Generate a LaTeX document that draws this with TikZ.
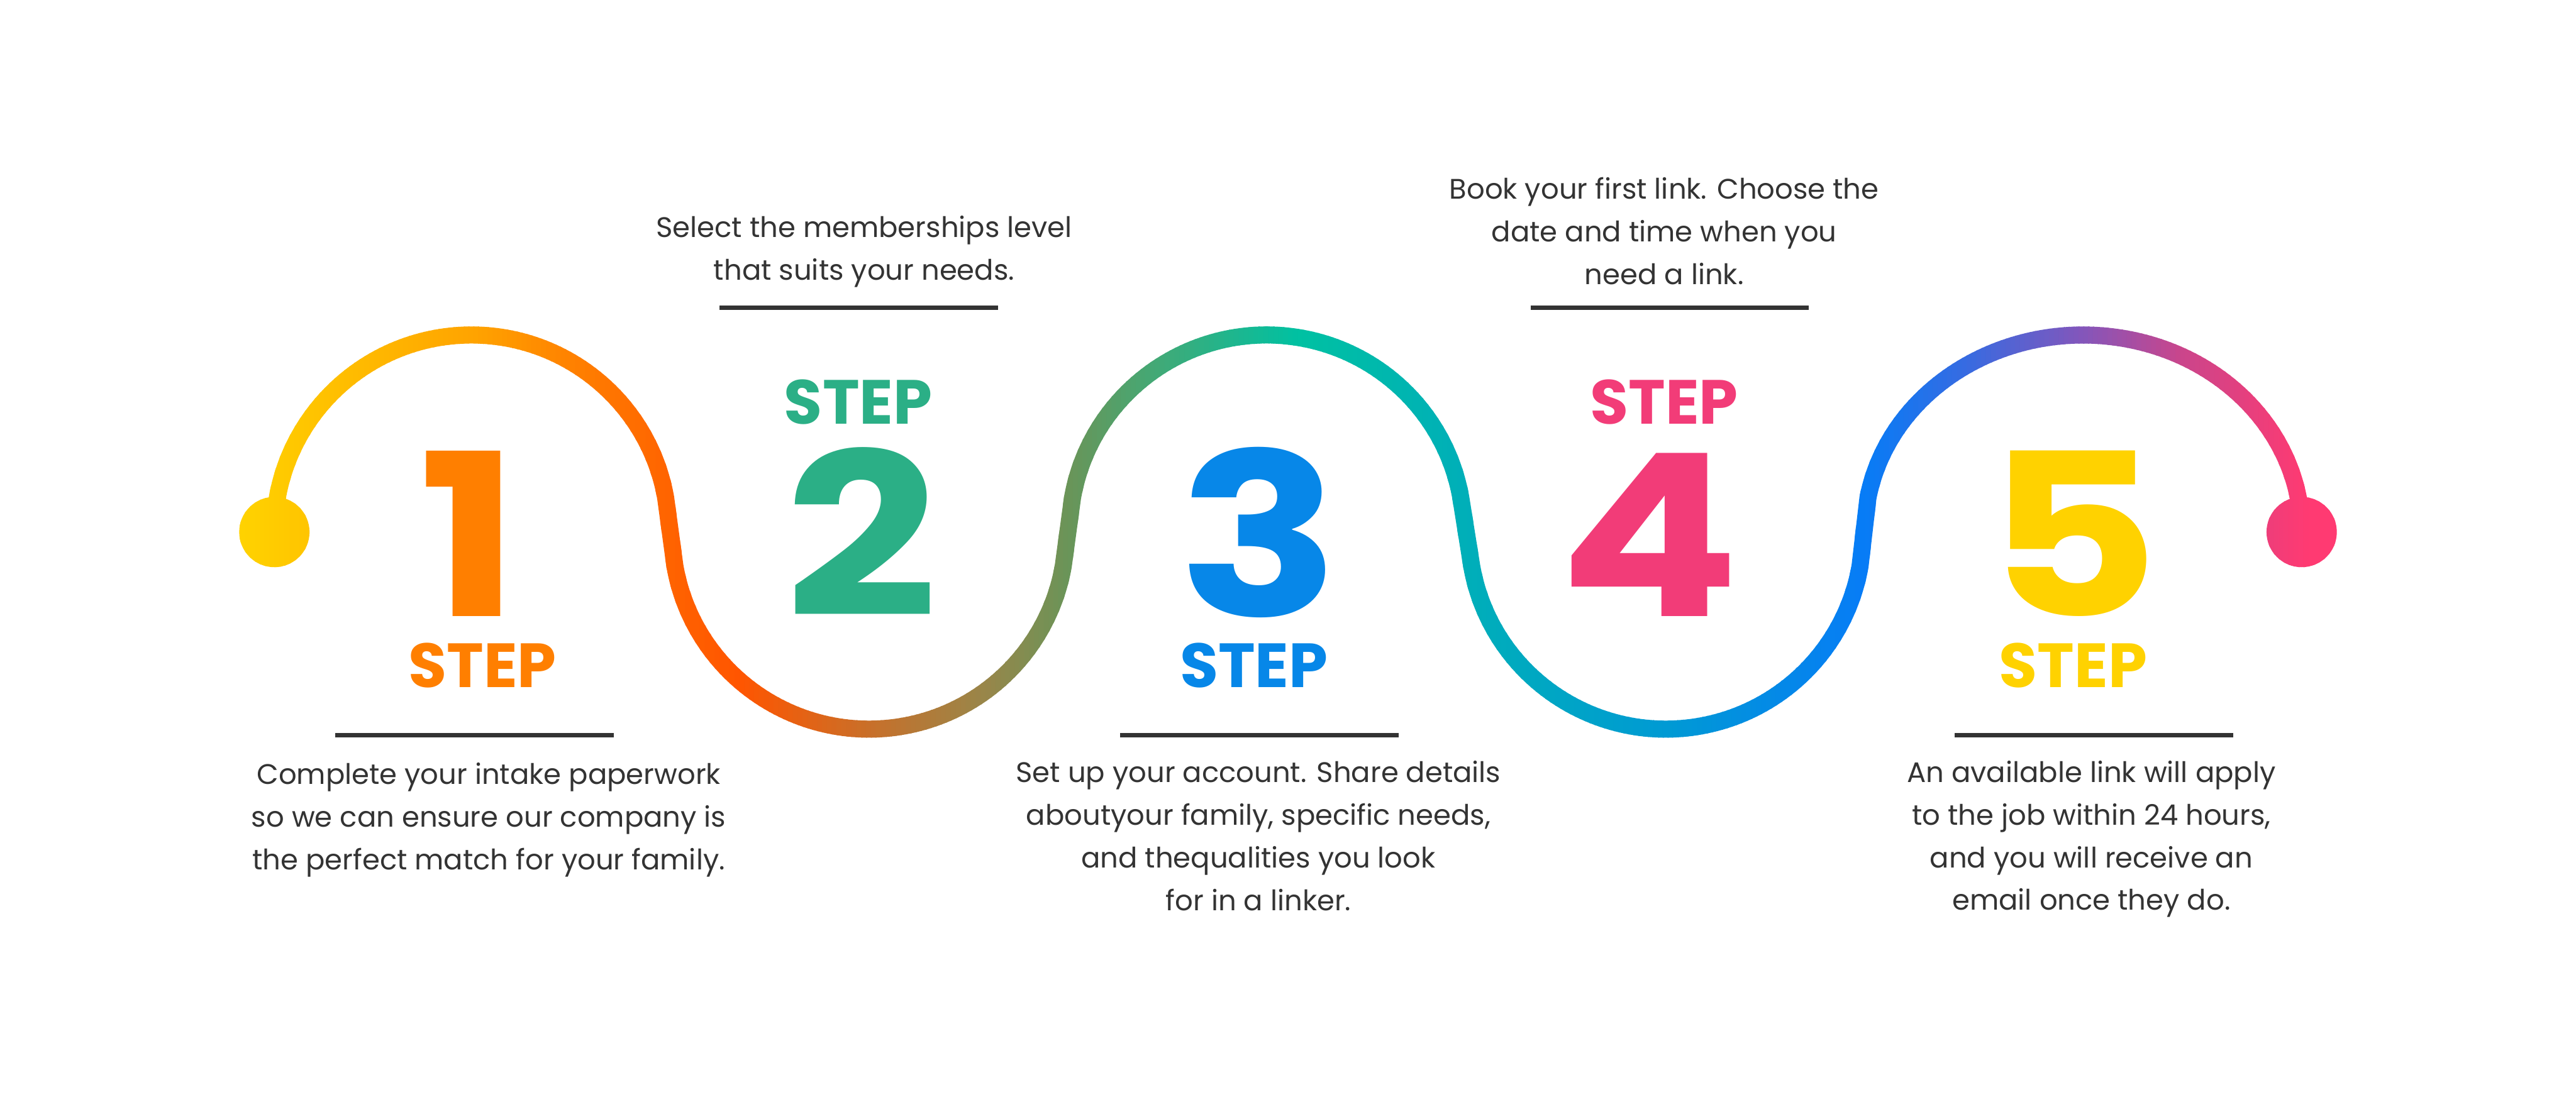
\documentclass[tikz,border=0pt]{standalone}
\usepackage{fontspec}
\setmainfont{Poppins}
\newfontfamily\digitfont{Poppins}[FakeStretch=1.18]

\definecolor{ink}{HTML}{333333}
\definecolor{stepA}{HTML}{FF7F00}
\definecolor{stepB}{HTML}{2BAF86}
\definecolor{stepC}{HTML}{0787E8}
\definecolor{stepD}{HTML}{F23C78}
\definecolor{stepE}{HTML}{FFD200}
% colour stops of the wave, left to right
\definecolor{w0}{HTML}{FFD400}
\definecolor{w1}{HTML}{FFA400}
\definecolor{w2}{HTML}{FF8000}
\definecolor{w3}{HTML}{FF6400}
\definecolor{w4}{HTML}{FF5500}
\definecolor{w5}{HTML}{C8702A}
\definecolor{w6}{HTML}{98864A}
\definecolor{w7}{HTML}{6A9458}
\definecolor{w8}{HTML}{45A874}
\definecolor{w9}{HTML}{00C1A2}
\definecolor{w10}{HTML}{00AFB8}
\definecolor{w11}{HTML}{009AD4}
\definecolor{w12}{HTML}{077CF6}
\definecolor{w13}{HTML}{3A6AE0}
\definecolor{w14}{HTML}{8456BA}
\definecolor{w15}{HTML}{CC458A}
\definecolor{w16}{HTML}{FF3A72}

\begin{document}
\begin{tikzpicture}[x=1pt,y=1pt,
  bignum/.style={anchor=base,inner sep=0pt,text height=100pt,text depth=0pt,
    font=\digitfont\bfseries\fontsize{138}{138}\selectfont},
  steptag/.style={anchor=base,inner sep=0pt,text height=27pt,text depth=0pt,
    font=\bfseries\fontsize{38}{38}\selectfont},
  blurb/.style={anchor=base,inner sep=0pt,text=ink,font=\fontsize{17.2}{26}\selectfont},
  rulepen/.style={draw=ink,line width=2.5pt},
  wavepen/.style={line width=10.4pt}]
  \fill[white] (0,0) rectangle (1568,671);
  \useasboundingbox (0,0) rectangle (1568,671);

  % centres of the humps and the two end dots
  \coordinate (dotL) at (167,347);
  \coordinate (h2) at (529,347);
  \coordinate (h3) at (771,347);
  \coordinate (h4) at (1014,347);
  \coordinate (h5) at (1268,347);
  \coordinate (dotR) at (1401,347);

  \def\wavepath{(dotL) arc[start angle=180,end angle=10,radius=120]
    -- ([shift={(190:120)}]h2) arc[start angle=190,end angle=350,radius=120]
    -- ([shift={(170:120)}]h3) arc[start angle=170,end angle=10,radius=120]
    -- ([shift={(190:120)}]h4) arc[start angle=190,end angle=350,radius=120]
    -- ([shift={(-131,20.8)}]h5) arc[start angle=170,end angle=0,x radius=133,y radius=120]}

  % wave with a horizontal colour run, drawn in thin strips
  \foreach \xa/\xb/\ca/\cb in {140/288/w0/w1,288/350/w1/w2,350/405/w2/w3,405/450/w3/w4,
      450/530/w4/w5,530/600/w5/w6,600/650/w6/w7,650/700/w7/w8,700/790/w8/w9,
      790/890/w9/w10,890/1015/w10/w11,1015/1135/w11/w12,1135/1200/w12/w13,
      1200/1268/w13/w14,1268/1330/w14/w15,1330/1405/w15/w16,1405/1430/w16/w16}{
    \pgfmathtruncatemacro\nstrip{max(1,round((\xb-\xa)/3))}
    \foreach \i in {1,...,\nstrip}{
      \pgfmathsetmacro\xl{\xa+(\i-1)*(\xb-\xa)/\nstrip}
      \pgfmathsetmacro\xr{\xa+\i*(\xb-\xa)/\nstrip+0.8}
      \pgfmathtruncatemacro\pct{round(100*(\i-0.5)/\nstrip)}
      \begin{scope}
        \clip (\xl,100) rectangle (\xr,520);
        \draw[wavepen,draw=\cb!\pct!\ca] \wavepath;
        \fill[\cb!\pct!\ca] (dotL) circle[radius=21.4] (dotR) circle[radius=21.4];
      \end{scope}
    }
  }

  % step 1
  \node[bignum,text=stepA] (num1) at (285.6,295.5) {1};
  \node[steptag,text=stepA] (tag1) at (293.7,252.5) {STEP};
  \draw[rulepen] (204,223.2) -- (373.5,223.2);
  \node[blurb] (note1) at (297.5,193.5) {\parbox[t]{360pt}{\centering
    Complete your intake paperwork\\ so we can ensure our company is\\ the perfect match for your family.}};

  % step 2
  \node[bignum,text=stepB] (num2) at (524.3,295.5) {2};
  \node[steptag,text=stepB] (tag2) at (522.4,412.7) {STEP};
  \draw[rulepen] (438,483.7) -- (607.7,483.7);
  \node[blurb] (note2) at (526,526.5) {\parbox[t]{360pt}{\centering
    Select the memberships level\\ that suits your needs.}};

  % step 3
  \node[bignum,text=stepC] (num3) at (766.6,295.5) {3};
  \node[steptag,text=stepC] (tag3) at (763.2,252.5) {STEP};
  \draw[rulepen] (681.8,223.2) -- (851.4,223.2);
  \node[blurb] (note3) at (766,194.5) {\parbox[t]{360pt}{\centering
    Set up your account. Share details\\ aboutyour family, specific needs,\\ and thequalities you look\\ for in a linker.}};

  % step 4
  \node[bignum,text=stepD] (num4) at (1003.9,295.5) {4};
  \node[steptag,text=stepD] (tag4) at (1013,412.7) {STEP};
  \draw[rulepen] (931.7,483.7) -- (1101.1,483.7);
  \node[blurb] (note4) at (1013,549.7) {\parbox[t]{360pt}{\centering
    Book your first link. Choose the\\ date and time when you\\ need a link.}};

  % step 5
  \node[bignum,text=stepE] (num5) at (1261.7,295.5) {5};
  \node[steptag,text=stepE] (tag5) at (1261.9,252.5) {STEP};
  \draw[rulepen] (1189.9,223.2) -- (1359.4,223.2);
  \node[blurb] (note5) at (1273,194.7) {\parbox[t]{360pt}{\centering
    An available link will apply\\ to the job within 24 hours,\\ and you will receive an\\ email once they do.}};
\end{tikzpicture}
\end{document}
